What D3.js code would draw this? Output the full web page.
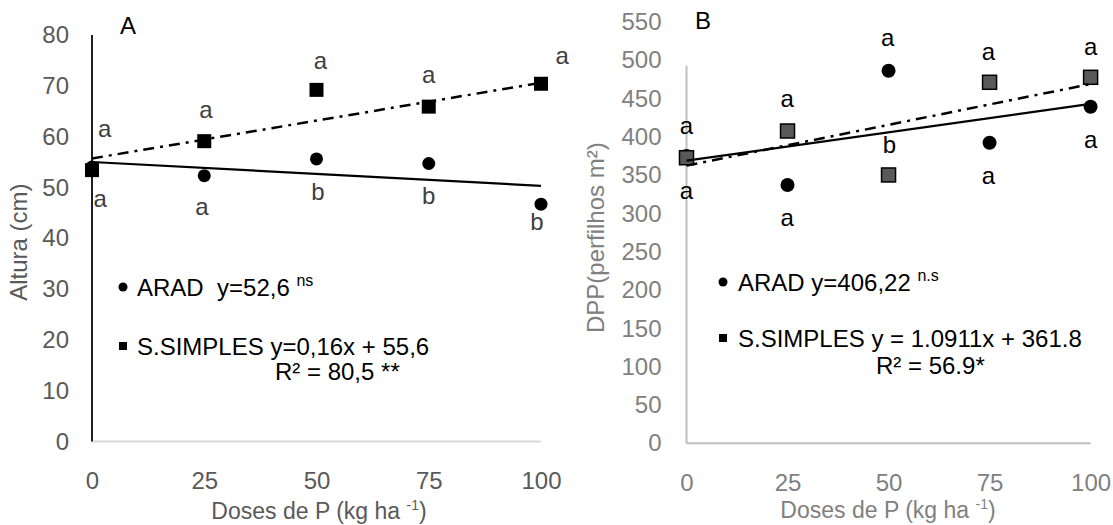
<!DOCTYPE html>
<html>
<head>
<meta charset="utf-8">
<script src="https://cdn.jsdelivr.net/npm/d3@7"></script>
<style>
  html, body { margin: 0; padding: 0; background: #fff; }
  svg { display: block; font-family: "Liberation Sans", Arial, sans-serif; }
</style>
</head>
<body>
<svg id="chart" width="1113" height="525"></svg>
<script>
// ---------- DATA ----------
const doses = [0, 25, 50, 75, 100];
const xTicks = [0, 25, 50, 75, 100];

// Panel A : Altura (cm)
const yTicksA = [0, 10, 20, 30, 40, 50, 60, 70, 80];
const aradA = [54.0, 52.3, 55.6, 54.7, 46.7];
const simplesA = [53.4, 59.1, 69.2, 65.9, 70.4];
const trendAradA = [55.0, 50.3];      // at dose 0 and 100
const trendSimplesA = [55.7, 70.6];
const letterTextA = ["a", "a", "a", "a", "a", "b", "a", "b", "a", "b"];
const letterXA = [2.8, 1.8, 25.4, 24.5, 50.9, 50.3, 75.0, 75.0, 104.7, 99.1];
const letterYA = [61.1, 47.5, 64.9, 45.9, 74.6, 48.8, 71.9, 48.0, 75.5, 42.9];

// Panel B : DPP (perfilhos m²)
const yTicksB = [0, 50, 100, 150, 200, 250, 300, 350, 400, 450, 500, 550];
const aradB = [375.0, 337.2, 486.4, 392.4, 439.4];
const simplesB = [372.8, 407.7, 350.3, 471.3, 477.8];
const trendAradB = [369.0, 443.0];
const trendSimplesB = [362.5, 469.0];
const axisTopB = 493;
const letterTextB = ["a", "a", "a", "a", "a", "b", "a", "a", "a", "a"];
const letterXB = [0, 0, 24.9, 24.9, 49.8, 50.2, 74.7, 74.7, 100, 100];
const letterYB = [412, 327, 447.2, 291.5, 526.5, 387.2, 509.1, 346.7, 515.6, 393.7];

// ---------- DRAW ----------
const svg = d3.select("#chart");
const FONT = 24;
const TFONT = 23;

function panel(cfg) {
  const g = svg.append("g");
  const x = cfg.x, y = cfg.y;

  const ya = g.append("g").attr("transform", `translate(${x(0)},0)`)
    .call(d3.axisLeft(y).tickValues(cfg.yTicks).tickSize(0).tickPadding(cfg.yPad).tickFormat(d3.format("d")));
  ya.select(".domain").remove();
  ya.selectAll("text").attr("font-size", FONT).attr("fill", cfg.tickColor).attr("font-family", null);

  const xa = g.append("g").attr("transform", `translate(0,${y(0)})`)
    .call(d3.axisBottom(x).tickValues(xTicks).tickSize(0).tickPadding(31).tickFormat(d3.format("d")));
  xa.select(".domain").remove();
  xa.selectAll("text").attr("font-size", FONT).attr("fill", cfg.tickColor).attr("font-family", null);

  g.append("line").attr("x1", x(0)).attr("x2", x(100)).attr("y1", y(0)).attr("y2", y(0))
    .attr("stroke", cfg.xAxisColor).attr("stroke-width", 2);
  g.append("line").attr("x1", x(0)).attr("x2", x(0)).attr("y1", y(0)).attr("y2", y(cfg.yAxisTop))
    .attr("stroke", cfg.yAxisColor).attr("stroke-width", cfg.yAxisWidth);

  g.selectAll("circle.arad").data(doses).join("circle").attr("class", "arad")
    .attr("cx", (d) => x(d)).attr("cy", (d, i) => y(cfg.arad[i]))
    .attr("r", cfg.circleR).attr("fill", "#000");

  const s = cfg.sq;
  g.selectAll("rect.simples").data(doses).join("rect").attr("class", "simples")
    .attr("x", (d) => x(d) - s / 2).attr("y", (d, i) => y(cfg.simples[i]) - s / 2)
    .attr("width", s).attr("height", s)
    .attr("fill", cfg.sqFill).attr("stroke", "#000").attr("stroke-width", cfg.sqStroke);

  g.append("line").attr("x1", x(0)).attr("x2", x(100))
    .attr("y1", y(cfg.trendArad[0])).attr("y2", y(cfg.trendArad[1]))
    .attr("stroke", "#000").attr("stroke-width", 2.25);
  g.append("line").attr("x1", x(0)).attr("x2", x(100))
    .attr("y1", y(cfg.trendSimples[0])).attr("y2", y(cfg.trendSimples[1]))
    .attr("stroke", "#000").attr("stroke-width", 2.5).attr("stroke-dasharray", "11,6,3,6");

  g.selectAll("text.letter").data(cfg.letterText).join("text").attr("class", "letter")
    .attr("x", (d, i) => x(cfg.letterX[i])).attr("y", (d, i) => y(cfg.letterY[i]))
    .attr("dy", "0.27em").attr("text-anchor", "middle")
    .attr("font-size", FONT).attr("fill", cfg.letterColor).text((d) => d);

  return g;
}

const xA = d3.scaleLinear().domain([0, 100]).range([92, 541]);
const yA = d3.scaleLinear().domain([0, 80]).range([441.4, 35]);
const xB = d3.scaleLinear().domain([0, 100]).range([686.5, 1090.6]);
const yB = d3.scaleLinear().domain([0, 550]).range([443.3, 22]);

panel({
  x: xA, y: yA, yTicks: yTicksA, yPad: 23, tickColor: "#595959",
  xAxisColor: "#d9d9d9", yAxisColor: "#000", yAxisWidth: 1.75, yAxisTop: 80,
  arad: aradA, simples: simplesA, trendArad: trendAradA, trendSimples: trendSimplesA,
  circleR: 6.5, sq: 14, sqFill: "#000", sqStroke: 0,
  letterText: letterTextA, letterX: letterXA, letterY: letterYA, letterColor: "#404040"
});
panel({
  x: xB, y: yB, yTicks: yTicksB, yPad: 25, tickColor: "#808080",
  xAxisColor: "#bfbfbf", yAxisColor: "#bfbfbf", yAxisWidth: 2, yAxisTop: axisTopB,
  arad: aradB, simples: simplesB, trendArad: trendAradB, trendSimples: trendSimplesB,
  circleR: 7, sq: 14, sqFill: "#595959", sqStroke: 1.5,
  letterText: letterTextB, letterX: letterXB, letterY: letterYB, letterColor: "#000"
});

svg.append("text").attr("x", 128).attr("y", 34).attr("text-anchor", "middle")
  .attr("font-size", 24).attr("fill", "#000").text("A");
svg.append("text").attr("x", 703).attr("y", 29).attr("text-anchor", "middle")
  .attr("font-size", 24).attr("fill", "#000").text("B");

function xTitle(cx, cy, color) {
  const t = svg.append("text").attr("x", cx).attr("y", cy).attr("text-anchor", "middle")
    .attr("font-size", TFONT).attr("fill", color);
  t.append("tspan").text("Doses de P (kg ha ");
  t.append("tspan").attr("font-size", 14).attr("dy", -9).text("-1");
  t.append("tspan").attr("dy", 9).text(")");
}
xTitle(319, 519, "#595959");
xTitle(888, 518, "#808080");

svg.append("text").attr("transform", `translate(27,${(yA(0) + yA(80)) / 2 + 4}) rotate(-90)`)
  .attr("text-anchor", "middle").attr("font-size", 24).attr("fill", "#595959").text("Altura (cm)");
svg.append("text").attr("transform", `translate(604,${(yB(0) + yB(550)) / 2 + 5}) rotate(-90)`)
  .attr("text-anchor", "middle").attr("font-size", 24).attr("fill", "#808080").text("DPP(perfilhos m²)");

function legend(bx, cy1, cy2, cy3, tx, l1, sup1, l2, l3x, l3) {
  svg.append("circle").attr("cx", bx).attr("cy", cy1).attr("r", 4.5).attr("fill", "#000");
  const t1 = svg.append("text").attr("x", tx).attr("y", cy1 + 8.5).attr("font-size", FONT).attr("fill", "#000")
    .style("white-space", "pre");
  t1.append("tspan").text(l1 + " ");
  t1.append("tspan").attr("font-size", 16).attr("dy", -10).text(sup1);
  svg.append("rect").attr("x", bx - 4).attr("y", cy2 - 4).attr("width", 8).attr("height", 8).attr("fill", "#000");
  svg.append("text").attr("x", tx).attr("y", cy2 + 8.5).attr("font-size", FONT).attr("fill", "#000").text(l2);
  svg.append("text").attr("x", l3x).attr("y", cy3 + 8.5).attr("font-size", FONT).attr("fill", "#000").text(l3);
}
legend(123, 287, 346, 371, 137, "ARAD  y=52,6", "ns", "S.SIMPLES y=0,16x + 55,6", 275, "R² = 80,5 **");
legend(723, 282, 338, 365, 738, "ARAD y=406,22", "n.s", "S.SIMPLES y = 1.0911x + 361.8", 876, "R² = 56.9*");
</script>
</body>
</html>
